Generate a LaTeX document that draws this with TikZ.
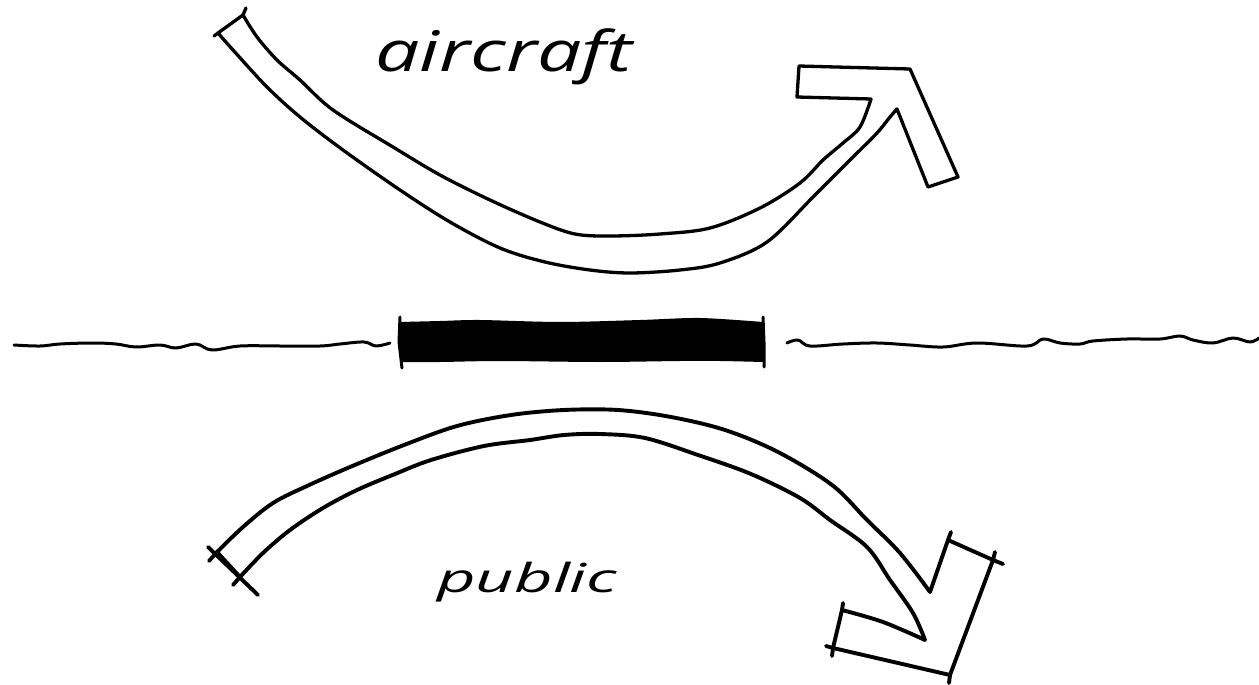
\documentclass[tikz,border=0pt]{standalone}
\usepackage{fontspec}
\setmainfont{Open Sans}
\usepackage{graphicx}
\begin{document}
\begin{tikzpicture}[x=1pt,y=-1pt,
  sketch/.style={draw=black, line width=3.3pt, line cap=round, line join=round},
  sketchb/.style={draw=black, line width=3.9pt, line cap=round, line join=round},
  wave/.style={draw=black, line width=3pt, line cap=round, line join=round},
  handtext/.style={inner sep=0pt, anchor=base west}]
\useasboundingbox[fill=white] (0,0) rectangle (1259,685);

% ---- top arrow (aircraft)
\draw[sketch] plot[smooth, tension=0.55] coordinates {
  (218,33) (233,50) (267,87) (300,117) (343,150) (400,190) (450,222)
  (500,248) (545,262) (590,270) (630,273) (680,270) (720,263) (767,242)
  (813,197) (837,173) (853,157) (877,133) (890,117) (897,109)}
  -- (928,187) -- (958,177) -- (910,69) -- (799,66) -- (797,97) -- (871,99)
  -- plot[smooth, tension=0.55] coordinates {
  (871,99) (860,127) (843,143) (823,160) (800,183) (760,208) (710,228)
  (660,234) (610,236) (575,234) (540,222) (490,200) (440,175) (393,147)
  (333,110) (300,80) (277,60) (257,37) (243,15)} -- cycle;
\draw[sketch] (243,15) -- (246,8);
\draw[sketch] (218,33) -- (214,36);

% ---- bottom arrow (public)
\draw[sketchb] plot[smooth, tension=0.55] coordinates {
  (217,552) (243,527) (273,503) (307,486) (350,467) (404,445) (457,426)
  (511,415) (564,410) (618,410) (671,417) (725,430) (778,452) (832,485)
  (867,520) (900,553) (930,592)}
  -- (948,540) -- (993,560) -- (950,675) -- (833,648) -- (842,610)
  -- plot[smooth, tension=0.55] coordinates {(842,610) (883,622) (925,640)}
  -- plot[smooth, tension=0.55] coordinates {
  (925,640) (913,613) (890,580) (867,547) (830,520) (800,498) (751,474)
  (698,455) (645,438) (600,434) (564,435) (530,440) (484,446) (431,460)
  (395,474) (357,490) (323,508) (290,530) (263,553) (240,577)} -- cycle;
% tail with cross ticks
\draw[sketchb] (208,547) -- (258,595);
\draw[sketchb] (217,552) -- (209,561);
\draw[sketchb] (240,577) -- (233,585);
% arrowhead corner ticks
\draw[sketchb] (948,540) -- (951,532);
\draw[sketchb] (993,560) -- (1003,564);
\draw[sketchb] (993,560) -- (995,552);
\draw[sketchb] (950,675) -- (949,683);
\draw[sketchb] (833,648) -- (826,646);
\draw[sketchb] (833,648) -- (832,656);
\draw[sketchb] (842,610) -- (843,603);

% ---- horizon line with black bar
\draw[wave] plot[smooth, tension=0.6] coordinates {
  (14,345) (40,346) (60,344) (92,343) (116,344) (136,347) (160,345)
  (176,348) (196,344) (212,350) (240,346) (280,346) (320,346) (340,344)
  (364,342) (376,346) (390,343)};
\draw[wave] plot[smooth, tension=0.6] coordinates {
  (787,343) (798,340) (810,346) (843,344) (877,343) (910,345) (943,347)
  (977,343) (1027,346) (1043,339) (1060,343) (1080,344) (1093,341)
  (1127,339) (1160,339) (1180,336) (1193,340) (1213,343) (1233,338)
  (1250,342) (1259,338)};
\fill[black] plot[smooth, tension=0.5] coordinates {
  (400,322) (440,321) (480,320) (560,322) (640,320) (700,318) (763,322)}
  -- plot[smooth, tension=0.5] coordinates {
  (763,362) (720,361) (680,361) (600,362) (500,361) (440,362) (400,362)} -- cycle;
\draw[wave] (400,317) -- (399,342) -- (402,368);
\draw[wave] (763,317) -- (764,342) -- (764,367);

% ---- labels
\node[handtext] (aircraft) at (375,72)
  {\fontsize{56}{60}\selectfont\itshape\resizebox{257pt}{\height}{aircraft}};
\node[handtext] (public) at (437,592)
  {\fontsize{40}{44}\selectfont\itshape\resizebox{180pt}{\height}{public}};
\end{tikzpicture}
\end{document}
